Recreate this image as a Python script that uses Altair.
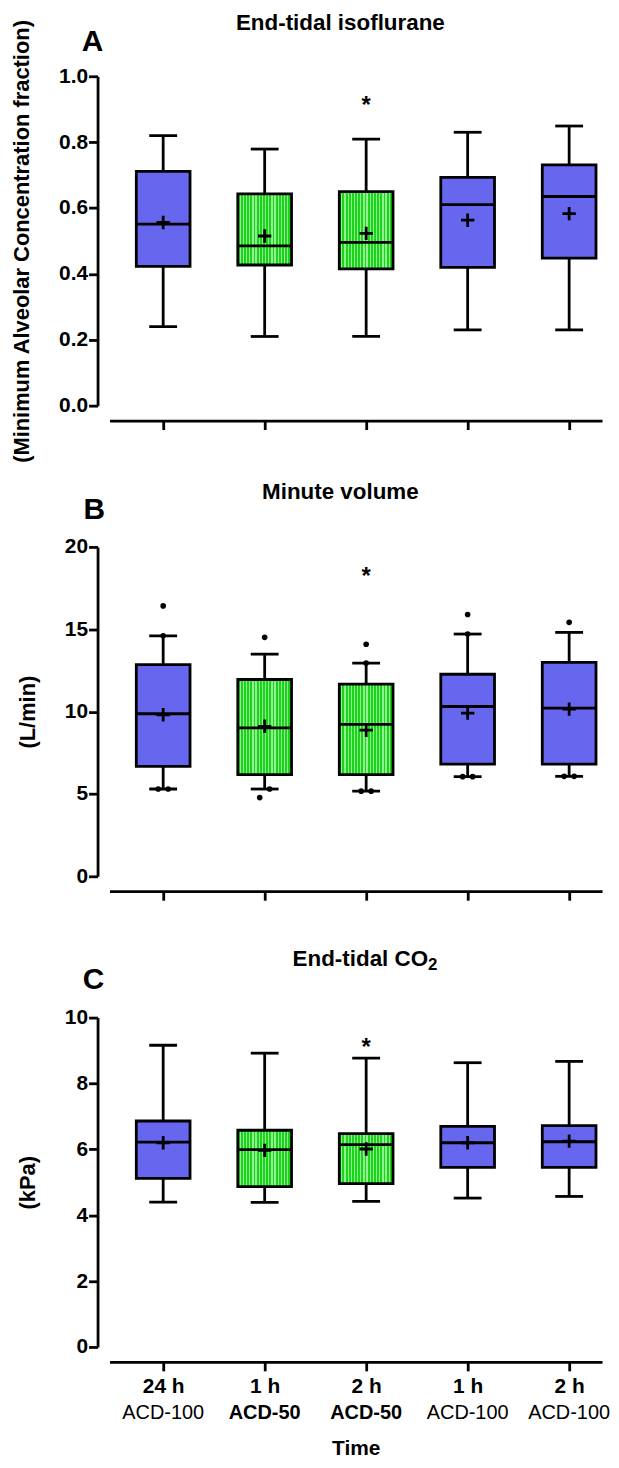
import altair as alt
import pandas as pd

# ---------------- data ----------------
times = ["24 h", "1 h", "2 h", "1 h", "2 h"]
groups = ["ACD-100", "ACD-50", "ACD-50", "ACD-100", "ACD-100"]
cats = [f"{t}|{g}" for t, g in zip(times, groups)]

# Panel A: end-tidal isoflurane (MAC fraction)
a_lo = [0.24, 0.21, 0.21, 0.23, 0.23]
a_q1 = [0.423, 0.427, 0.415, 0.420, 0.448]
a_med = [0.551, 0.485, 0.496, 0.610, 0.635]
a_q3 = [0.711, 0.643, 0.650, 0.693, 0.731]
a_hi = [0.820, 0.779, 0.809, 0.830, 0.849]
a_mean = [0.556, 0.515, 0.523, 0.563, 0.583]
a_star = 0.93

# Panel B: minute volume (L/min)
b_lo = [5.30, 5.30, 5.17, 6.05, 6.07]
b_q1 = [6.67, 6.17, 6.17, 6.81, 6.81]
b_med = [9.87, 9.01, 9.23, 10.31, 10.21]
b_q3 = [12.85, 11.95, 11.67, 12.27, 12.99]
b_hi = [14.60, 13.49, 12.95, 14.71, 14.81]
b_mean = [9.81, 9.11, 8.87, 9.91, 10.15]
b_star = 18.6
b_out_cat = [0, 0, 0, 0, 1, 1, 1, 2, 2, 2, 2, 3, 3, 3, 3, 4, 4, 4]
b_out_val = [16.42, 14.60, 5.30, 5.30,
             14.51, 4.78, 5.30,
             14.09, 12.95, 5.17, 5.17,
             15.90, 14.71, 6.05, 6.05,
             15.42, 6.07, 6.07]

# Panel C: end-tidal CO2 (kPa)
c_lo = [4.40, 4.39, 4.42, 4.52, 4.57]
c_q1 = [5.12, 4.87, 4.96, 5.45, 5.45]
c_med = [6.22, 5.99, 6.14, 6.20, 6.23]
c_q3 = [6.86, 6.58, 6.48, 6.70, 6.72]
c_hi = [9.16, 8.92, 8.77, 8.63, 8.67]
c_mean = [6.20, 5.97, 6.01, 6.20, 6.25]
c_star = 9.3

# ---------------- styles ----------------
FONT = "Liberation Sans"
W, H = 495, 331
LW = 2.8


def stripes(c1, c2, n, frac):
    stops = []
    for i in range(n):
        a = i / n
        b = (i + frac) / n
        c = (i + 1) / n
        stops += [alt.GradientStop(offset=a, color=c1), alt.GradientStop(offset=b, color=c1),
                  alt.GradientStop(offset=b, color=c2), alt.GradientStop(offset=c, color=c2)]
    return alt.LinearGradient(gradient="linear", stops=stops, x1=0, x2=1, y1=0, y2=0)


BLUE = "#6666ee"
GREEN = stripes("#1ad41a", "#92f092", 17, 0.6)
PLUS = "M-1,0L1,0M0,-1L0,1"

xscale = alt.Scale(type="point", domain=cats, padding=0.4265, align=0.62)


def x_enc(show):
    ax = alt.Axis(labels=show, labelExpr="split(datum.label,'|')[0]", offset=15,
                  tickSize=9, tickWidth=LW, domainWidth=LW, labelPadding=5,
                  labelFontSize=21, labelFontWeight="bold", labelFont=FONT,
                  titleFont=FONT, titleFontSize=21, titleFontWeight="bold",
                  titlePadding=41, domainColor="black", tickColor="black",
                  labelColor="black", titleColor="black", labelAngle=0, grid=False)
    return alt.X("cat:N", scale=xscale, axis=ax, title="Time" if show else None)


def text_layer(s, x, y, size, align="left", dy=0):
    return alt.Chart(pd.DataFrame({"t": [s]})).mark_text(
        fontSize=size, fontWeight="bold", font=FONT, align=align,
        baseline="alphabetic", color="black", dy=dy
    ).encode(x=alt.value(x), y=alt.value(y), text="t:N")


def panel(letter, titles, ty, lx, ly, lo, q1, med, q3, hi, mean, star,
          top, vals, fmt, ytitle, out_cat=None, out_val=None, show_x=False):
    df = pd.DataFrame({"cat": cats, "grp": groups, "lo": lo, "q1": q1, "med": med,
                       "q3": q3, "hi": hi, "mean": mean})
    yscale = alt.Scale(domain=[0, top], nice=False, zero=True)
    yaxis = alt.Axis(values=vals, format=fmt, offset=12, tickSize=9, tickWidth=LW,
                     domainWidth=LW, labelPadding=1, labelFontSize=21,
                     labelFontWeight="bold", labelFont=FONT, titleFont=FONT,
                     titleFontSize=22, titleFontWeight="bold", titlePadding=25,
                     domainColor="black", tickColor="black", labelColor="black",
                     titleColor="black", grid=False)

    def Y(f):
        return alt.Y(f"{f}:Q", scale=yscale, axis=yaxis, title=ytitle)

    X = x_enc(show_x)
    base = alt.Chart(df)
    layers = [
        base.mark_rule(color="black", strokeWidth=LW).encode(x=X, y=Y("lo"), y2="hi"),
        base.mark_tick(color="black", size=28, thickness=LW, orient="horizontal", opacity=1).encode(x=X, y=Y("lo")),
        base.mark_tick(color="black", size=28, thickness=LW, orient="horizontal", opacity=1).encode(x=X, y=Y("hi")),
        base.transform_filter("datum.grp == 'ACD-100'").mark_bar(
            fill=BLUE, stroke="black", strokeWidth=LW, size=54, opacity=1).encode(x=X, y=Y("q1"), y2="q3"),
        base.transform_filter("datum.grp == 'ACD-50'").mark_bar(
            fill=GREEN, stroke="black", strokeWidth=LW, size=54, opacity=1).encode(x=X, y=Y("q1"), y2="q3"),
        base.mark_tick(color="black", size=54, thickness=LW, orient="horizontal", opacity=1).encode(x=X, y=Y("med")),
        base.mark_point(shape=PLUS, filled=False, size=180, strokeWidth=2.8, color="black", opacity=1).encode(x=X, y=Y("mean")),
    ]
    if out_cat is not None:
        odf = pd.DataFrame({"cat": [cats[i] for i in out_cat], "v": out_val})
        layers.append(
            alt.Chart(odf)
            .transform_calculate(g="round(datum.v)")
            .transform_window(r="row_number()", groupby=["cat", "g"], sort=[alt.SortField("v")])
            .transform_joinaggregate(n="count()", groupby=["cat", "g"])
            .transform_calculate(off="(datum.r - (datum.n + 1) / 2) * 10")
            .mark_circle(color="black", size=32, opacity=1)
            .encode(x=X, y=Y("v"), xOffset=alt.XOffset("off:Q", scale=None))
        )
    sdf = pd.DataFrame({"cat": [cats[2]], "v": [star]})
    layers.append(alt.Chart(sdf).mark_text(text="*", fontSize=24, fontWeight="bold", font=FONT,
                                           baseline="alphabetic", dy=14, color="black")
                  .encode(x=X, y=Y("v")))
    for (s, x, size, align, dy) in titles:
        layers.append(text_layer(s, x, ty, size, align, dy))
    layers.append(text_layer(letter, lx, ly, 30))
    if show_x:
        gdf = pd.DataFrame({"cat": cats, "grp": groups})
        layers.append(alt.Chart(gdf).transform_filter("datum.grp == 'ACD-100'")
                      .mark_text(fontSize=20, fontWeight="normal", font=FONT, align="center",
                                 baseline="alphabetic", color="black")
                      .encode(x=X, y=alt.value(H + 72), text="grp:N"))
        layers.append(alt.Chart(gdf).transform_filter("datum.grp == 'ACD-50'")
                      .mark_text(fontSize=20, fontWeight="bold", font=FONT, align="center",
                                 baseline="alphabetic", color="black")
                      .encode(x=X, y=alt.value(H + 72), text="grp:N"))
    return alt.layer(*layers).properties(width=W, height=H)


pA = panel("A", [("End-tidal isoflurane", 232, 22.5, "center", 0)], -46.7, -28, -25,
           a_lo, a_q1, a_med, a_q3, a_hi, a_mean, a_star,
           1.0, [0, 0.2, 0.4, 0.6, 0.8, 1.0], ".1f",
           "(Minimum Alveolar Concentration fraction)")
pB = panel("B", [("Minute volume", 232, 22.5, "center", 0)], -48, -26, -28,
           b_lo, b_q1, b_med, b_q3, b_hi, b_mean, b_star,
           20, [0, 5, 10, 15, 20], "d", "(L/min)",
           out_cat=b_out_cat, out_val=b_out_val)
pC = panel("C", [("End-tidal CO", 184, 22.5, "left", 0), ("2", 320, 17, "left", 4)], -51.6, -27, -29,
           c_lo, c_q1, c_med, c_q3, c_hi, c_mean, c_star,
           10, [0, 2, 4, 6, 8, 10], "d", "(kPa)", show_x=True)

chart = alt.vconcat(pA, pB, pC, spacing=142, bounds="flush").properties(
    padding={"top": 0, "left": 2, "right": 0, "bottom": 0}
).configure(font=FONT).configure_view(strokeWidth=0, stroke="transparent")

chart.save("out.html", embed_options={"renderer": "svg", "actions": False})
